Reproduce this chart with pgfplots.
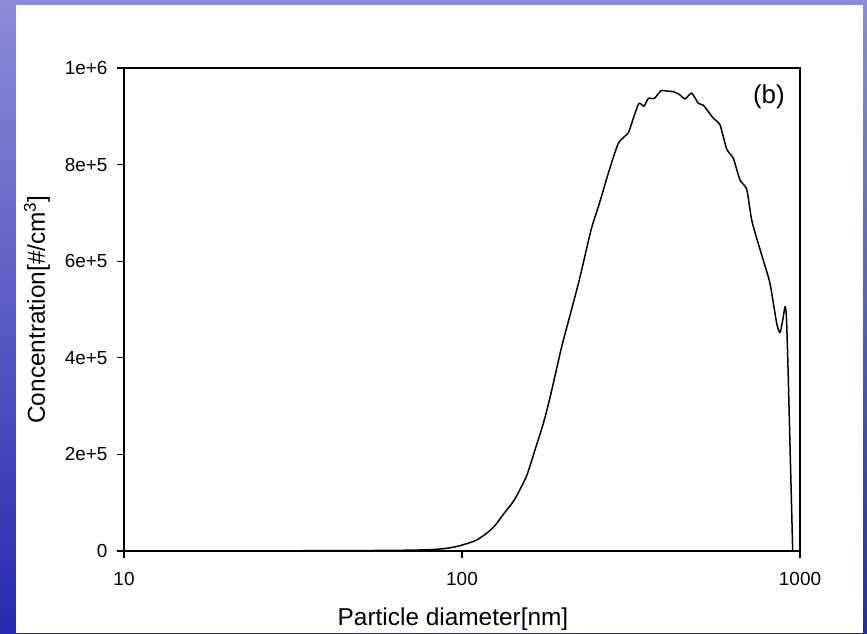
\documentclass[border=0pt]{standalone}
\usepackage{pgfplots}
\pgfplotsset{compat=1.18}
\usepackage{fontspec}
\setmainfont{Liberation Sans}

\definecolor{slidetop}{RGB}{140,140,216}
\definecolor{slidebot}{RGB}{40,40,176}

% particle size distribution: diameter [nm], concentration [#/cm^3]
\pgfplotstableread{
d      c
28     0
35     600
50     900
65     1400
80     2600
90     5500
98.6   11000
110    22000
118.4  37000
125    52000
132.2  75000
140    97000
145.1  114000
155.4  156000
164.4  209000
174.0  264000
182.2  318000
197.2  423000
210    495000
222.3  561000
240.9  665000
253.2  713000
261.8  747000
270.9  782000
290.0  844000
310.5  866000
322    898000
334.0  927000
345.5  921000
355.8  937000
370.7  937000
388.0  953000
405    952000
421.8  951000
440    945000
456.8  936000
478.1  948000
500.1  927000
517.4  923000
535    910000
554.0  896000
580.0  882000
607.0  832000
634.9  813000
664.5  768000
695.5  749000
719.6  685000
750    640000
778.6  602000
815.0  554000
853.3  471000
872.6  452000
890    480000
902.8  506000
911    489000
919.7  402000
934.3  216000
951.4  0
}\psd

\begin{document}
\begin{tikzpicture}[x=1bp,y=1bp]
  % slide background with white panel
  \shade[top color=slidetop, bottom color=slidebot] (0,0) rectangle (867,633);
  \fill[white] (16,0) rectangle (863,628);
  \begin{axis}[
    at={(124bp,82bp)}, anchor=south west,
    scale only axis, width=676bp, height=483bp,
    xmode=log, xmin=10, xmax=1000,
    ymin=0, ymax=1000000,
    xtick={10,100,1000}, xticklabels={10,100,1000},
    xminorticks=false,
    ytick={0,200000,400000,600000,800000,1000000},
    yticklabels={0,2e+5,4e+5,6e+5,8e+5,1e+6},
    scaled y ticks=false,
    xtick pos=bottom, ytick pos=left,
    tick align=outside, major tick length=7bp,
    axis line style={line width=1.2bp},
    tick style={line width=1.2bp, black},
    /pgf/number format/assume math mode=true,
    ticklabel style={font=\fontsize{19}{21}\selectfont},
    xticklabel style={yshift=-11bp},
    yticklabel style={xshift=-6bp},
    xlabel={Particle diameter[nm]},
    ylabel={Concentration[\#/cm\textsuperscript{3}]},
    label style={font=\fontsize{24.5}{26}\selectfont},
    xlabel style={yshift=-15bp, xshift=-9bp},
    ylabel style={yshift=8bp},
    clip=false,
  ]
    \addplot[black, line width=1.5bp, line join=round, smooth, tension=0.35] table[x=d, y=c] {\psd};
    \node[font=\fontsize{26}{28}\selectfont] at (rel axis cs:0.954,0.94) {(b)};
  \end{axis}
\end{tikzpicture}
\end{document}
